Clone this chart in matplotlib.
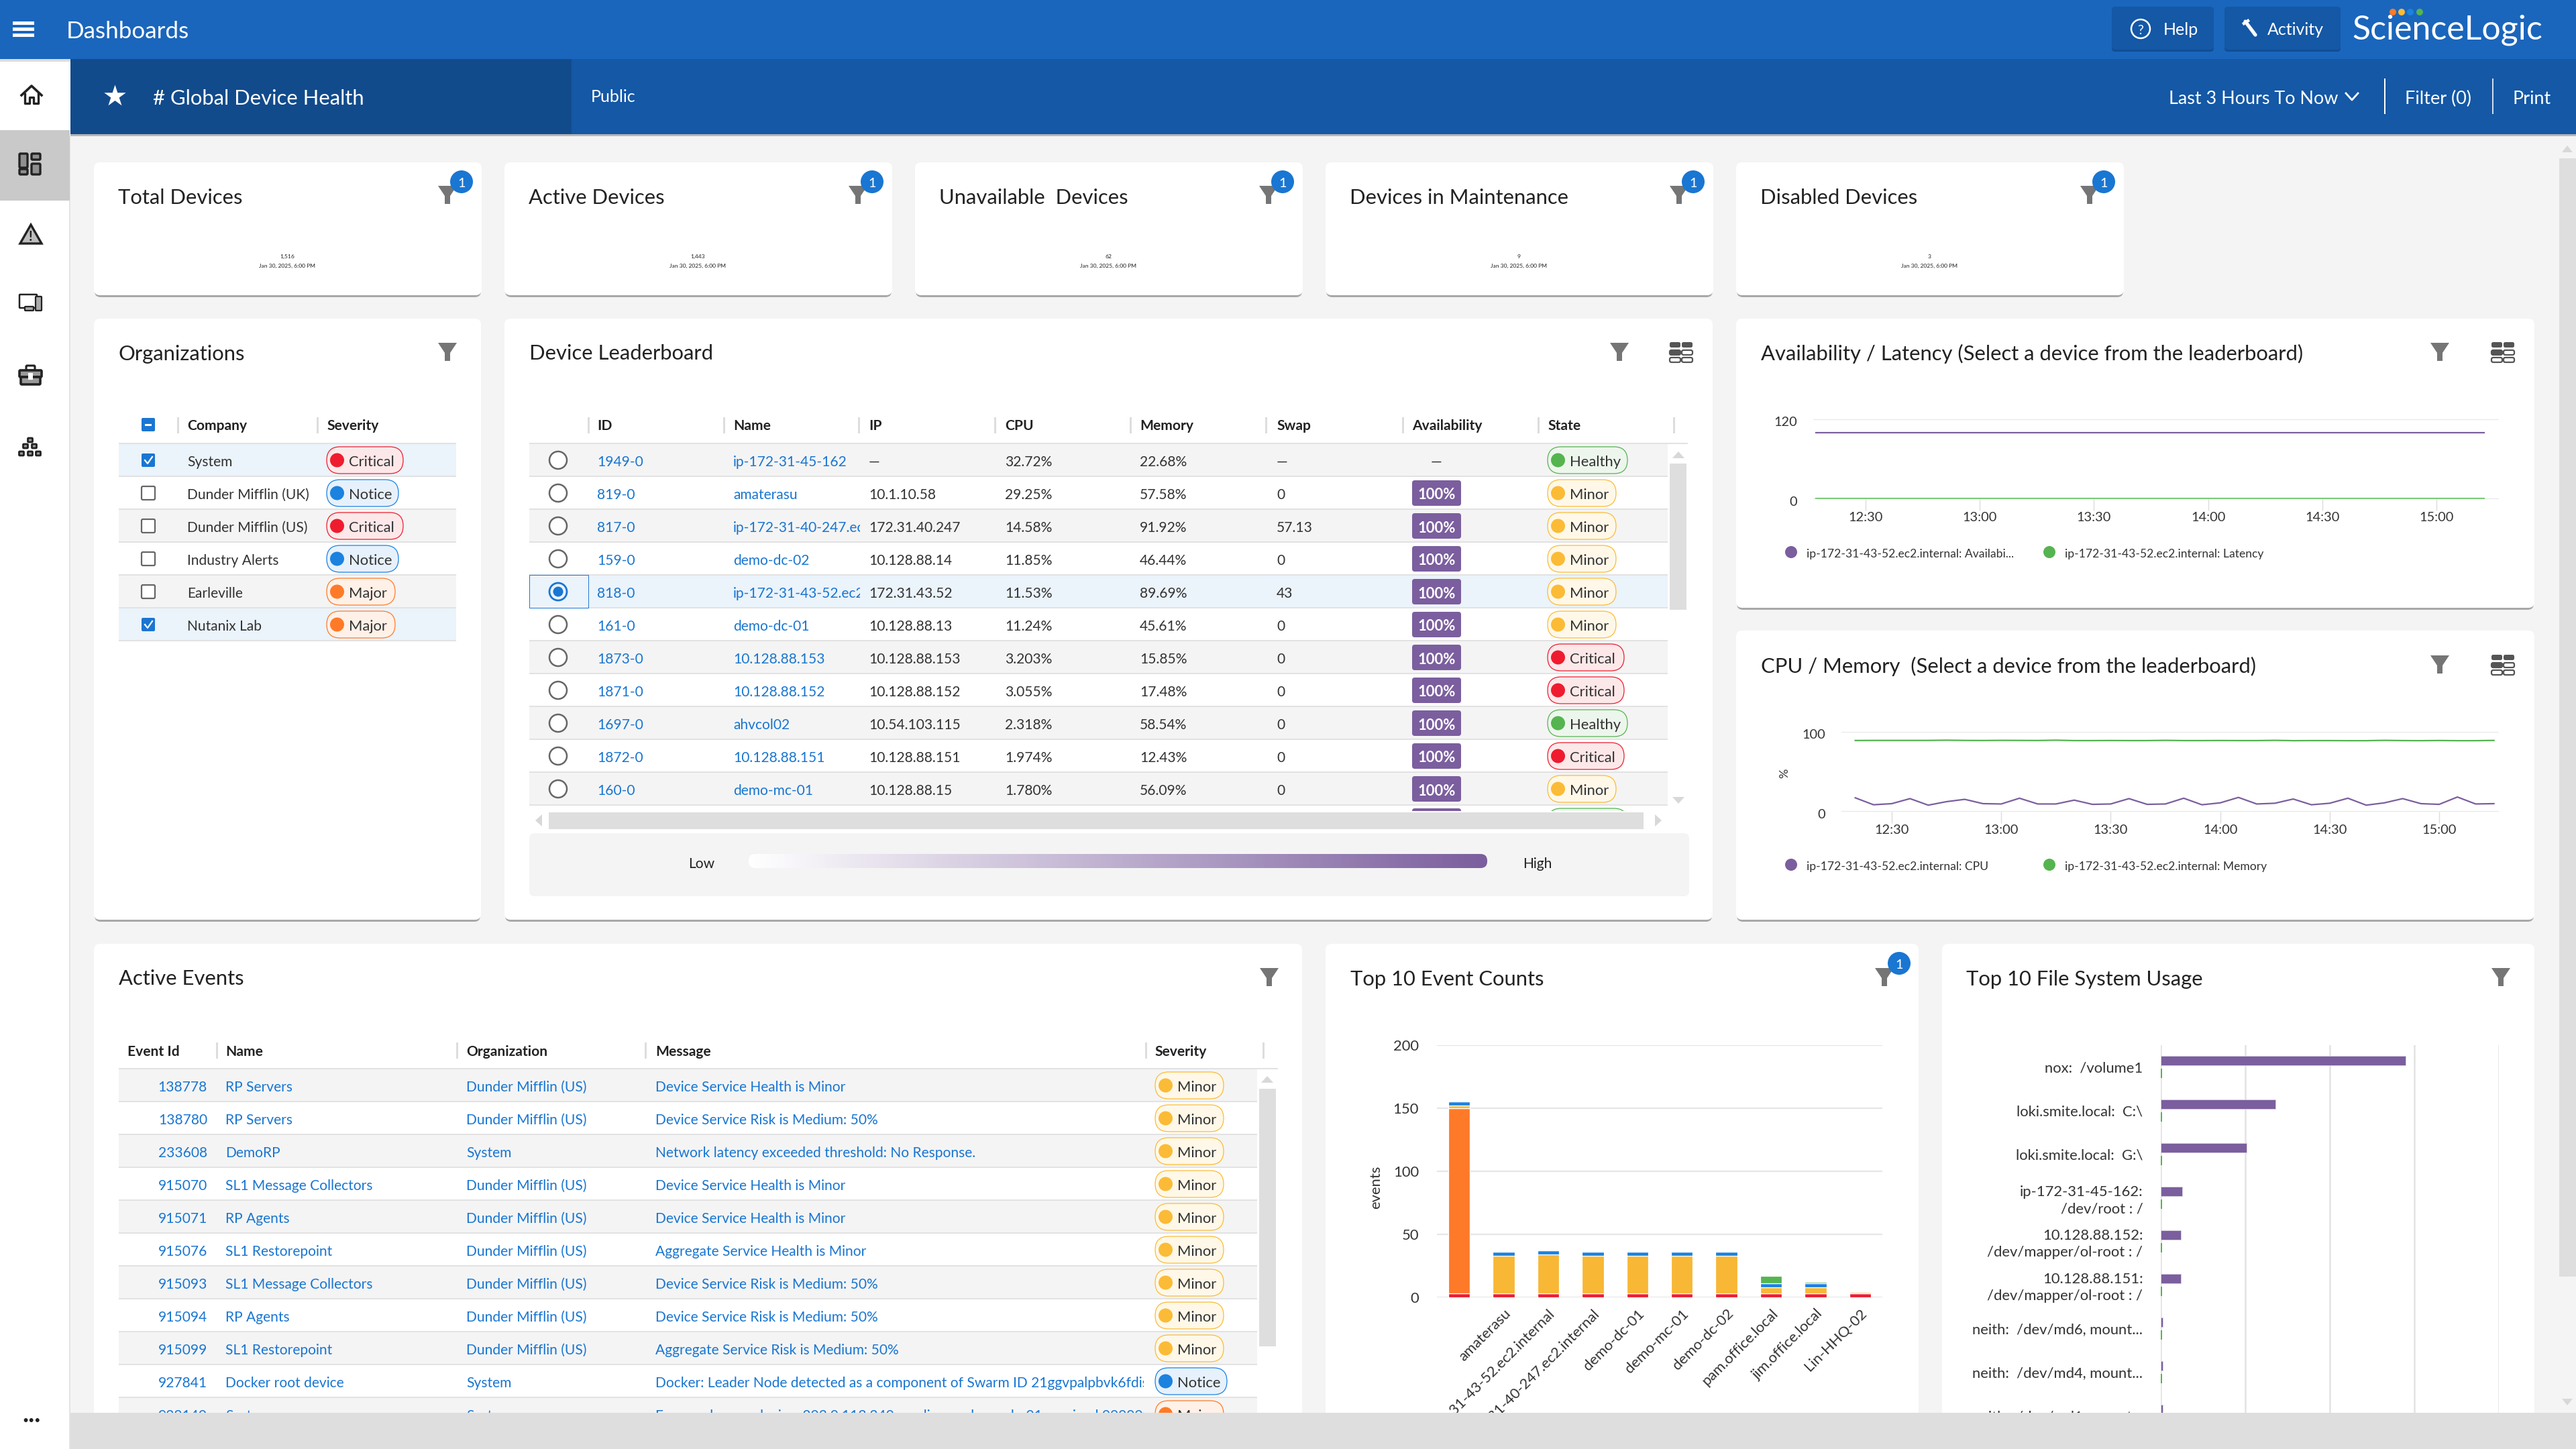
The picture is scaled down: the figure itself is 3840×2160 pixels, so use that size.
import numpy as np
import matplotlib
matplotlib.use("Agg")
import matplotlib.pyplot as plt
from matplotlib.patches import Circle, FancyBboxPatch, Polygon, Rectangle
from matplotlib.transforms import ScaledTranslation

W, H = 3840, 2160
plt.rcParams['font.family'] = ['Lato', 'DejaVu Sans']

# ====== 1. Data ======
stat_titles = ["Total Devices", "Active Devices", "Unavailable  Devices", "Devices in Maintenance", "Disabled Devices"]
stat_values = ["1,516", "1,443", "62", "9", "3"]
stat_date = "Jan 30, 2025, 6:00 PM"

org_names = ["System", "Dunder Mifflin (UK)", "Dunder Mifflin (US)", "Industry Alerts", "Earleville", "Nutanix Lab"]
org_severity = ["Critical", "Notice", "Critical", "Notice", "Major", "Major"]
org_checked = [True, False, False, False, False, True]

lead_headers = ["ID", "Name", "IP", "CPU", "Memory", "Swap", "Availability", "State"]
lead_ids = ["1949-0", "819-0", "817-0", "159-0", "818-0", "161-0", "1873-0", "1871-0", "1697-0", "1872-0", "160-0"]
lead_names = ["ip-172-31-45-162", "amaterasu", "ip-172-31-40-247.ec2.internal", "demo-dc-02",
              "ip-172-31-43-52.ec2.internal", "demo-dc-01", "10.128.88.153", "10.128.88.152",
              "ahvcol02", "10.128.88.151", "demo-mc-01"]
lead_ips = ["—", "10.1.10.58", "172.31.40.247", "10.128.88.14", "172.31.43.52", "10.128.88.13",
            "10.128.88.153", "10.128.88.152", "10.54.103.115", "10.128.88.151", "10.128.88.15"]
lead_cpu = ["32.72%", "29.25%", "14.58%", "11.85%", "11.53%", "11.24%", "3.203%", "3.055%", "2.318%", "1.974%", "1.780%"]
lead_mem = ["22.68%", "57.58%", "91.92%", "46.44%", "89.69%", "45.61%", "15.85%", "17.48%", "58.54%", "12.43%", "56.09%"]
lead_swap = ["—", "0", "57.13", "0", "43", "0", "0", "0", "0", "0", "0"]
lead_avail = ["—", "100%", "100%", "100%", "100%", "100%", "100%", "100%", "100%", "100%", "100%"]
lead_state = ["Healthy", "Minor", "Minor", "Minor", "Minor", "Minor", "Critical", "Critical", "Healthy", "Critical", "Minor"]

event_ids = ["138778", "138780", "233608", "915070", "915071", "915076", "915093", "915094", "915099", "927841", "928140"]
event_names = ["RP Servers", "RP Servers", "DemoRP", "SL1 Message Collectors", "RP Agents", "SL1 Restorepoint",
               "SL1 Message Collectors", "RP Agents", "SL1 Restorepoint", "Docker root device", "System"]
event_orgs = ["Dunder Mifflin (US)", "Dunder Mifflin (US)", "System", "Dunder Mifflin (US)", "Dunder Mifflin (US)",
              "Dunder Mifflin (US)", "Dunder Mifflin (US)", "Dunder Mifflin (US)", "Dunder Mifflin (US)", "System", "System"]
event_msgs = ["Device Service Health is Minor", "Device Service Risk is Medium: 50%",
              "Network latency exceeded threshold: No Response.", "Device Service Health is Minor",
              "Device Service Health is Minor", "Aggregate Service Health is Minor",
              "Device Service Risk is Medium: 50%", "Device Service Risk is Medium: 50%",
              "Aggregate Service Risk is Medium: 50%",
              "Docker: Leader Node detected as a component of Swarm ID 21ggvpalpbvk6fdis8xyz",
              "Error: unknown device: 203.0.113.240, appliance: demo-dc-01 received 000000"]
event_sev = ["Minor"] * 9 + ["Notice", "Major"]

time_ticks = [750, 780, 810, 840, 870, 900]
time_labels = ["12:30", "13:00", "13:30", "14:00", "14:30", "15:00"]

avail_times = [737, 912.5]
avail_values = [100, 100]
latency_values = [1, 1]

cpu_times = [740, 745, 750, 755, 760, 765, 770, 775, 780, 785, 790, 795, 800, 805, 810, 815, 820, 825,
             830, 835, 840, 845, 850, 855, 860, 865, 870, 875, 880, 885, 890, 895, 900, 905, 910, 915]
cpu_values = [17.4, 8.7, 10.1, 16.4, 8.2, 12.6, 15.5, 10.1, 9.7, 16.9, 9.7, 9.7, 14.5, 9.2, 9.7, 16.4, 9.2, 9.7,
              16.9, 8.7, 11.1, 17.9, 9.7, 10.6, 15.9, 8.7, 10.6, 16.9, 8.2, 11.1, 16.4, 10.1, 9.2, 18.4, 9.7, 10.1]
mem_values = [89.2, 89.3, 89.3, 89.3, 89.3, 89.6, 89.3, 89.2, 89.4, 89.3, 89.2, 89.6, 89.1, 89.1, 89.2, 89.1, 89.1, 89.4,
              89.1, 89.1, 89.2, 89.1, 89.1, 89.4, 89.0, 89.1, 89.1, 89.0, 89.0, 89.4, 89.1, 89.0, 89.2, 89.0, 89.0, 89.3]

# the first bar has no label of its own in the reference
count_hosts = ["", "amaterasu", "ip-172-31-43-52.ec2.internal", "ip-172-31-40-247.ec2.internal", "demo-dc-01",
               "demo-mc-01", "demo-dc-02", "pam.office.local", "jim.office.local", "Lin-HHQ-02"]
count_critical = [3, 3, 3, 3, 3, 3, 3, 3, 3, 3]
count_major = [147, 0, 0, 0, 0, 0, 0, 0, 0, 0]
count_minor = [2, 30, 31, 30, 30, 30, 30, 5, 5, 1]
count_notice = [3, 3, 3, 3, 3, 3, 3, 3, 3, 0]
count_healthy = [0, 0.5, 0, 0, 0, 0, 0, 6, 1, 0.5]

fs_labels = ["nox:  /volume1", "loki.smite.local:  C:\\", "loki.smite.local:  G:\\", "ip-172-31-45-162:\n/dev/root : /",
             "10.128.88.152:\n/dev/mapper/ol-root : /", "10.128.88.151:\n/dev/mapper/ol-root : /",
             "neith:  /dev/md6, mount...", "neith:  /dev/md4, mount...", "neith:  /dev/md1, mount...", ""]
fs_used = [290, 136, 102, 26, 24, 24, 2.4, 2.4, 2.4, 0]
fs_other = [2, 2, 2, 2, 2, 2, 2, 2, 2, 0]

# ====== 2. Colours ======
BAR_BLUE = '#1a66bc'
SUB_BLUE = '#1458a6'
DARK_BLUE = '#124b8c'
PAGE = '#f4f4f4'
LINK = '#1976d2'
INK = '#222222'
LINE = '#e2e2e2'
SCROLL = '#dedede'
PURPLE = '#7b5e9e'
GREEN = '#55b450'
SEV = {'Critical': ('#ee1c2e', '#fde8e9'), 'Major': ('#ff7a28', '#fff1e7'), 'Minor': ('#fbbb36', '#fff8e8'),
       'Notice': ('#1b82e0', '#e6f1fb'), 'Healthy': (GREEN, '#edf6ec')}
PILL_W = {'Critical': 114, 'Major': 102, 'Minor': 102, 'Notice': 107, 'Healthy': 119}

fig = plt.figure(figsize=(19.2, 10.8), dpi=200, facecolor=PAGE)


def px_axes(x0, y0, x1, y1, z=1):
    a = fig.add_axes([x0 / W, 1 - y1 / H, (x1 - x0) / W, (y1 - y0) / H], zorder=z)
    a.patch.set_alpha(0)
    return a


ax = px_axes(0, 0, W, H, z=0)
ax.set_xlim(0, W)
ax.set_ylim(H, 0)
ax.axis('off')
top = px_axes(0, 0, W, H, z=5)
top.set_xlim(0, W)
top.set_ylim(H, 0)
top.axis('off')


def fs(px):
    return px * 0.36


def txt(x, y, s, size=21, color=INK, ha='left', weight='normal', a=None, clip=None, **kw):
    a = a or ax
    t = a.text(x, y, s, fontsize=fs(size), color=color, ha=ha, va='center_baseline', fontweight=weight, **kw)
    if clip is not None:
        t.set_clip_path(Rectangle((clip[0], clip[1]), clip[2] - clip[0], clip[3] - clip[1], transform=a.transData))
        t.set_clip_on(True)
    return t


def rect(x0, y0, x1, y1, color, a=None, z=1):
    (a or ax).add_patch(Rectangle((x0, y0), x1 - x0, y1 - y0, fc=color, ec='none', zorder=z))


def rbox(x0, y0, x1, y1, r, fc, ec='none', lw=0.0, a=None, z=1):
    p = FancyBboxPatch((x0, y0), x1 - x0, y1 - y0, boxstyle=f"round,pad=0,rounding_size={r}",
                       fc=fc, ec=ec, lw=lw, zorder=z)
    (a or ax).add_patch(p)
    return p


def card(x0, y0, x1, y1):
    rbox(x0 + 1, y0 + 3, x1 - 1, y1 + 3, 9, '#a8a8a8', z=1)
    rbox(x0, y0, x1, y1, 9, 'white', z=1.5)


def funnel(cx, cy, color='#757575'):
    ax.add_patch(Polygon([(cx - 14, cy - 14), (cx + 14, cy - 14), (cx + 4, cy + 1), (cx + 4, cy + 13),
                          (cx - 4, cy + 13), (cx - 4, cy + 1)], fc=color, ec='none', zorder=3))


def badge(cx, cy):
    ax.add_patch(Circle((cx, cy), 17, fc='#1976d2', ec='none', zorder=4))
    txt(cx, cy + 1, "1", 20, 'white', ha='center', zorder=5)


def grid_icon(cx, cy):
    for dx in (-9, 9):
        rbox(cx + dx - 8, cy - 15, cx + dx + 8, cy - 7, 2.5, '#555555', z=3)
        rbox(cx + dx - 8, cy - 3, cx + dx + 8, cy + 4, 2.5, '#555555' if dx < 0 else 'white', ec='#555555', lw=0.8, z=3)
        rbox(cx + dx - 8, cy + 8, cx + dx + 8, cy + 15, 2.5, 'white', ec='#555555', lw=0.8, z=3)


def pill(x, cy, label):
    col, bg = SEV[label]
    w = PILL_W[label]
    rbox(x, cy - 20, x + w, cy + 20, 20, bg, ec=col, lw=0.45, z=3)
    ax.add_patch(Circle((x + 15.5, cy), 10.5, fc=col, ec='none', zorder=4))
    txt(x + 33, cy + 1, label, 22, '#333333', zorder=4)


def table_seps(xs, y0, y1):
    for x in xs:
        rect(x - 1.5, y0, x + 1.5, y1, '#dddddd', z=2)


def row_fill(x0, x1, y0, y1, color):
    rect(x0, y0, x1, y1, color, z=1.6)
    rect(x0, y1 - 1, x1, y1 + 1, LINE, z=1.7)


def arrow(cx, cy, kind, z=3):
    pts = {'up': [(cx - 9, cy + 5), (cx + 9, cy + 5), (cx, cy - 5)], 'down': [(cx - 9, cy - 5), (cx + 9, cy - 5), (cx, cy + 5)],
           'left': [(cx + 5, cy - 9), (cx + 5, cy + 9), (cx - 5, cy)], 'right': [(cx - 5, cy - 9), (cx - 5, cy + 9), (cx + 5, cy)]}
    ax.add_patch(Polygon(pts[kind], fc='#d8d8d8', ec='none', zorder=z))


def nudge_ylabels(a, dy_px):
    # value labels sit slightly under their grid lines in the reference
    for lab in a.get_yticklabels():
        lab.set_transform(lab.get_transform() + ScaledTranslation(0, -dy_px / 200, fig.dpi_scale_trans))


# ====== 3. Header bars and sidebar ======
rect(0, 0, W, 88, BAR_BLUE, z=3)
rect(105, 88, W, 200, SUB_BLUE, z=1)
rect(105, 88, 852, 200, DARK_BLUE, z=1.1)
rect(105, 200, W, 203, '#b5b5b5', z=1)
rect(0, 88, 105, H, 'white', z=1)
rect(103, 203, 105, H, '#e4e4e4', z=1)
rect(0, 88, 105, 92, '#dddddd', z=1.2)
rect(0, 194, 104, 299, '#c9c9c9', z=1.2)

for y in (34, 43, 52):
    rect(19, y - 2.5, 51, y + 2.5, 'white', z=4)
txt(99, 44, "Dashboards", 35, 'white', zorder=4)
ax.scatter([171], [143], marker='*', s=150, color='white', zorder=4, linewidths=0)
txt(228, 144, "# Global Device Health", 31, 'white', zorder=4)
txt(881, 143, "Public", 25, 'white', zorder=4)

for x0, x1 in ((3148, 3300), (3316, 3489)):
    rbox(x0, 13, x1, 77, 5, '#124d92', z=3.1)
    rbox(x0, 10, x1, 74, 5, SUB_BLUE, z=3.2)
ax.add_patch(Circle((3191, 43), 14, fc='none', ec='white', lw=0.9, zorder=4))
txt(3191, 44, "?", 20, 'white', ha='center', zorder=4)
txt(3225, 43, "Help", 25, 'white', zorder=4)
ax.plot([3347, 3362], [32, 52], color='white', lw=1.9, solid_capstyle='round', zorder=4)
ax.plot([3345, 3351], [35, 31], color='white', lw=1.6, zorder=4)
txt(3380, 43, "Activity", 25, 'white', zorder=4)
txt(3506, 40, "ScienceLogic", 50, 'white', zorder=4)
for x, c in zip((3567, 3580, 3593, 3607), ('#ff7a28', '#fbbb36', '#1b82e0', GREEN)):
    ax.add_patch(Circle((x, 18), 5, fc=c, ec='none', zorder=5))

txt(3233, 145, "Last 3 Hours To Now", 27, 'white', zorder=4)
ax.plot([3497, 3506, 3515], [139, 149, 139], color='white', lw=1.0, zorder=4)
rect(3554, 117, 3556, 170, 'white', z=4)
txt(3585, 145, "Filter (0)", 27, 'white', zorder=4)
rect(3715, 117, 3717, 170, '#d0dcec', z=4)
txt(3746, 145, "Print", 27, 'white', zorder=4)

# sidebar icons
D = '#222222'
ax.plot([32, 47, 62], [142, 128, 142], color=D, lw=1.3, zorder=3)
ax.plot([37, 37, 44, 44, 50, 50, 57, 57], [140, 154, 154, 145, 145, 154, 154, 140], color=D, lw=1.2, zorder=3)
for x0, y0, x1, y1 in ((29, 229, 41, 250), (47, 229, 60, 238), (29, 252, 41, 260), (47, 244, 60, 260)):
    rbox(x0, y0, x1, y1, 1.5, '#8f8f8f', ec=D, lw=1.2, z=3)
ax.add_patch(Polygon([(46, 335), (62, 363), (30, 363)], fc='#bdbdbd', ec=D, lw=1.2, zorder=3))
txt(46, 351, "!", 20, D, ha='center', weight='bold', zorder=4)
rbox(29, 439, 55, 459, 1, 'white', ec=D, lw=0.9, z=3)
rbox(53, 442, 62, 463, 1, '#aaaaaa', ec=D, lw=0.8, z=3.1)
rbox(37, 457, 50, 463, 1, '#aaaaaa', ec=D, lw=0.8, z=3.1)
rbox(29, 552, 62, 562, 1.5, '#9a9a9a', ec=D, lw=1.3, z=3)
rbox(31, 562, 60, 573, 1.5, '#9a9a9a', ec=D, lw=1.3, z=3)
rbox(39, 545, 52, 552, 1.5, 'white', ec=D, lw=1.1, z=2.9)
rect(42, 556, 49, 566, 'white', z=3.2)
for x, y in ((45, 656), (38, 665), (51, 665), (32, 676), (45, 676), (57, 676)):
    rbox(x - 3.5, y - 3, x + 3.5, y + 3, 1, '#9a9a9a', ec=D, lw=1.0, z=3)
txt(47, 2117, "•••", 16, D, ha='center', zorder=6, a=top)

# ====== 4. Stat cards ======
for i, title in enumerate(stat_titles):
    x0 = 140 + 612 * i
    card(x0, 242, x0 + 578, 440)
    txt(x0 + 36, 292, title, 31, zorder=3)
    funnel(x0 + 527, 291)
    badge(x0 + 548, 271)
    txt(x0 + 288, 382, stat_values[i], 8.5, ha='center', zorder=3)
    txt(x0 + 288, 396, stat_date, 8.5, ha='center', zorder=3)

# ====== 5. Organizations ======
card(140, 475, 717, 1371)
txt(177, 525, "Organizations", 31, zorder=3)
funnel(667, 525)
txt(279, 633, "Company", 21, weight='bold', zorder=3)
txt(487, 633, "Severity", 21, weight='bold', zorder=3)
table_seps((265, 473), 622, 646)
rect(177, 660, 680, 662, LINE, z=2)
rbox(211, 623, 231, 643, 2, '#1976d2', z=3)
rect(216, 632, 226, 635, 'white', z=4)
org_rows = ['#ebf3fb', 'white', PAGE, 'white', PAGE, '#ebf3fb']
for i, name in enumerate(org_names):
    cy = 686 + 49 * i
    row_fill(177, 680, cy - 25, cy + 24, org_rows[i])
    if org_checked[i]:
        rbox(211, cy - 10, 231, cy + 10, 2, '#1976d2', z=3)
        ax.plot([216, 220, 227], [cy, cy + 5, cy - 5], color='white', lw=0.8, zorder=4)
    else:
        rbox(211, cy - 10, 231, cy + 10, 2, 'white', ec='#666666', lw=0.8, z=3)
    txt(279, cy + 1, name, 21, '#333333', zorder=3)
    pill(487, cy, org_severity[i])

# ====== 6. Device Leaderboard ======
card(752, 475, 2553, 1371)
txt(789, 525, "Device Leaderboard", 31, zorder=3)
funnel(2414, 525)
grid_icon(2506, 525)
lead_x = [890, 1093, 1295, 1498, 1699, 1903, 2105, 2307]
for x, h in zip(lead_x, lead_headers):
    txt(x, 633, h, 21, weight='bold', zorder=3)
table_seps((877, 1079, 1280, 1483, 1685, 1887, 2091, 2293, 2495), 622, 646)
rect(789, 660, 2516, 662, LINE, z=2)
lead_rows = [PAGE, 'white', PAGE, 'white', '#ebf3fb', 'white', PAGE, 'white', PAGE, 'white', PAGE]
for i in range(len(lead_ids)):
    cy = 686 + 49 * i
    row_fill(789, 2486, cy - 25, cy + 24, lead_rows[i])
    if i == 4:
        ax.add_patch(Rectangle((789, cy - 25), 88, 49, fc='#ebf3fb', ec='#1976d2', lw=0.35, zorder=2))
        ax.add_patch(Circle((832, cy), 13, fc='none', ec='#1976d2', lw=1.0, zorder=3))
        ax.add_patch(Circle((832, cy), 7.5, fc='#1976d2', ec='none', zorder=3))
    else:
        ax.add_patch(Circle((832, cy), 13, fc='white', ec='#666666', lw=0.9, zorder=3))
    txt(lead_x[0], cy + 1, lead_ids[i], 21, LINK, zorder=3)
    txt(lead_x[1], cy + 1, lead_names[i], 21, LINK, zorder=3, clip=(1080, cy - 25, 1282, cy + 25))
    txt(lead_x[2], cy + 1, lead_ips[i], 21, '#333333', zorder=3)
    txt(lead_x[3], cy + 1, lead_cpu[i], 21, '#333333', zorder=3)
    txt(lead_x[4], cy + 1, lead_mem[i], 21, '#333333', zorder=3)
    txt(lead_x[5], cy + 1, lead_swap[i], 21, '#333333', zorder=3)
    if lead_avail[i] == "—":
        txt(2141, cy + 1, "—", 21, '#333333', ha='center', zorder=3)
    else:
        rbox(2105, cy - 19, 2178, cy + 19, 4, PURPLE, z=3)
        txt(2141.5, cy + 1, lead_avail[i], 22, 'white', ha='center', weight='bold', zorder=4)
    pill(2307, cy, lead_state[i])
# next row peeks out under the last one
rbox(2105, 1205, 2178, 1243, 4, PURPLE, z=3)
rbox(2307, 1205, 2426, 1245, 20, SEV['Healthy'][1], ec=GREEN, lw=0.45, z=3)
rect(789, 1209, 2520, 1245, 'white', z=3.4)
rect(818, 1211, 2450, 1236, SCROLL, z=3.5)
rect(2489, 691, 2514, 909, SCROLL, z=3.5)
arrow(2502, 678, 'up')
arrow(2502, 1193, 'down')
arrow(803, 1223, 'left', z=3.5)
arrow(2472, 1223, 'right', z=3.5)
rbox(789, 1242, 2518, 1336, 8, PAGE, z=3.6)
txt(1026, 1286, "Low", 21, zorder=4)
txt(2270, 1286, "High", 21, zorder=4)
grad_box = rbox(1116, 1273, 2217, 1294, 10, 'none', z=3.7)
grad = ax.imshow(np.linspace(0, 1, 256)[None, :], extent=(1116, 2217, 1294, 1273), aspect='auto', zorder=3.8,
                 cmap=matplotlib.colors.LinearSegmentedColormap.from_list('lead', ['#ffffff', PURPLE]))
grad.set_clip_path(grad_box)
ax.set_xlim(0, W)
ax.set_ylim(H, 0)

# ====== 7. Availability / Latency ======
card(2588, 475, 3778, 906)
txt(2625, 525, "Availability / Latency (Select a device from the leaderboard)", 31, zorder=3)
funnel(3637, 525)
grid_icon(3731, 525)


def line_axes(x0, y0, x1, y1, xlim, ylim, yticks):
    a = px_axes(x0, y0, x1, y1, z=2)
    a.set_xlim(*xlim)
    a.set_ylim(*ylim)
    a.set_yticks(yticks)
    a.set_xticks(time_ticks)
    a.set_xticklabels(time_labels)
    a.grid(axis='y', color='#e6e6e6', lw=0.75)
    a.set_axisbelow(True)
    for s in a.spines.values():
        s.set_visible(False)
    a.tick_params(axis='y', length=0, pad=fs(24), labelsize=fs(20), labelcolor='#333333')
    a.tick_params(axis='x', length=fs(17), width=0.5, color='#dcdcdc', pad=fs(2), labelsize=fs(20), labelcolor='#333333')
    nudge_ylabels(a, 3)
    return a


ax_avail = line_axes(2703, 625, 3725, 744, (736.25, 916.4), (0, 120), [0, 120])
ax_avail.plot(avail_times, avail_values, color=PURPLE, lw=0.8)
ax_avail.plot(avail_times, latency_values, color='#7ccb78', lw=0.8)


def legend_row(y, labels):
    for x, c, s in zip((2670, 3055), (PURPLE, GREEN), labels):
        ax.add_patch(Circle((x, y), 9, fc=c, ec='none', zorder=3))
        txt(x + 23, y + 1, s, 17.5, '#333333', zorder=3)


legend_row(823, ["ip-172-31-43-52.ec2.internal: Availabi...", "ip-172-31-43-52.ec2.internal: Latency"])

# ====== 8. CPU / Memory ======
card(2588, 940, 3778, 1371)
txt(2625, 991, "CPU / Memory  (Select a device from the leaderboard)", 31, zorder=3)
funnel(3637, 991)
grid_icon(3731, 991)
ax_cpu = line_axes(2745, 1091, 3725, 1210, (750 - 75 / 5.44, 750 + 905 / 5.44), (0, 100), [0, 100])
ax_cpu.plot(cpu_times, cpu_values, color=PURPLE, lw=0.8)
ax_cpu.plot(cpu_times, mem_values, color=GREEN, lw=0.8)
txt(2660, 1152, "%", 18, '#333333', ha='center', rotation=90, zorder=3)
legend_row(1289, ["ip-172-31-43-52.ec2.internal: CPU", "ip-172-31-43-52.ec2.internal: Memory"])

# ====== 9. Active Events ======
card(140, 1407, 1941, 2160)
txt(177, 1457, "Active Events", 31, zorder=3)
funnel(1892, 1457)
event_x = [190, 336, 695, 977, 1722]
for x, h in zip(event_x, ["Event Id", "Name", "Organization", "Message", "Severity"]):
    txt(x, 1566, h, 21, weight='bold', zorder=3)
table_seps((323, 681, 962, 1708, 1883), 1554, 1578)
rect(177, 1592, 1905, 1594, LINE, z=2)
for i in range(len(event_ids)):
    cy = 1618 + 49 * i
    row_fill(177, 1874, cy - 25, cy + 24, PAGE if i % 2 == 0 else 'white')
    txt(309, cy + 1, event_ids[i], 21, LINK, ha='right', zorder=3)
    txt(event_x[1], cy + 1, event_names[i], 21, LINK, zorder=3)
    txt(event_x[2], cy + 1, event_orgs[i], 21, LINK, zorder=3)
    txt(event_x[3], cy + 1, event_msgs[i], 21, LINK, zorder=3, clip=(960, cy - 25, 1705, cy + 25))
    pill(1722, cy, event_sev[i])
rect(1877, 1623, 1902, 2007, SCROLL, z=3)
arrow(1889, 1609, 'up')

# ====== 10. Top 10 Event Counts ======
card(1976, 1407, 2860, 2160)
txt(2013, 1457, "Top 10 Event Counts", 31, zorder=3)
funnel(2809, 1457)
badge(2831, 1436)
ax_bar = px_axes(2142, 1557.5, 2806, 1934, z=2)
positions = np.arange(len(count_hosts))
stack = [(count_critical, SEV['Critical'][0]), (count_major, SEV['Major'][0]), (count_minor, '#f8b735'),
         (count_notice, SEV['Notice'][0]), (count_healthy, GREEN)]
bottom = np.zeros(len(positions))
for vals, color in stack:
    ax_bar.bar(positions, vals, width=0.49, bottom=bottom, color=color, edgecolor='white', linewidth=0.45)
    bottom = bottom + np.array(vals)
ax_bar.set_xlim(-0.5, 9.5)
ax_bar.set_ylim(0, 200)
ax_bar.set_yticks([0, 50, 100, 150, 200])
ax_bar.grid(axis='y', color='#e6e6e6', lw=0.8)
ax_bar.set_axisbelow(True)
for s in ax_bar.spines.values():
    s.set_visible(False)
ax_bar.set_xticks(positions)
ax_bar.set_xticklabels(count_hosts, rotation=45, ha='right', rotation_mode='anchor')
ax_bar.tick_params(axis='y', length=0, pad=fs(27), labelsize=fs(22), labelcolor='#333333')
ax_bar.tick_params(axis='x', length=0, pad=fs(14), labelsize=fs(22), labelcolor='#333333')
txt(2051, 1746, "events", 22, '#333333', ha='center', rotation=90, zorder=3)

# ====== 11. Top 10 File System Usage ======
card(2895, 1407, 3778, 2160)
txt(2931, 1457, "Top 10 File System Usage", 31, zorder=3)
funnel(3728, 1457)
ax_fs = px_axes(3220.5, 1558, 3725, 2208, z=2)
band = np.arange(len(fs_labels))
ax_fs.barh(band - 0.145, fs_used, height=0.215, color=PURPLE, edgecolor='#d8d2e2', linewidth=0.3)
ax_fs.barh(band + 0.145, fs_other, height=0.215, color=GREEN)
ax_fs.set_ylim(9.5, -0.5)
ax_fs.set_xlim(0, 400)
ax_fs.set_xticks([0, 100, 200, 300, 400])
ax_fs.set_xticklabels([])
ax_fs.grid(axis='x', color='#e2e2e2', lw=0.9)
ax_fs.set_axisbelow(True)
for s in ax_fs.spines.values():
    s.set_visible(False)
ax_fs.set_yticks(band)
ax_fs.set_yticklabels(fs_labels, linespacing=1.3)
ax_fs.tick_params(axis='y', length=0, pad=fs(26), labelsize=fs(22), labelcolor='#333333')
ax_fs.tick_params(axis='x', length=0)

# ====== 12. Page scrollbar and bottom strip ======
rect(3815, 236, 3840, 1903, SCROLL, a=top)
top.add_patch(Polygon([(3819, 227), (3835, 227), (3827, 217)], fc='#d8d8d8', ec='none'))
top.add_patch(Polygon([(3819, 2085), (3835, 2085), (3827, 2095)], fc='#d8d8d8', ec='none'))
rect(105, 2106, W, H, SCROLL, a=top)

fig.savefig("out.png", dpi=200)
